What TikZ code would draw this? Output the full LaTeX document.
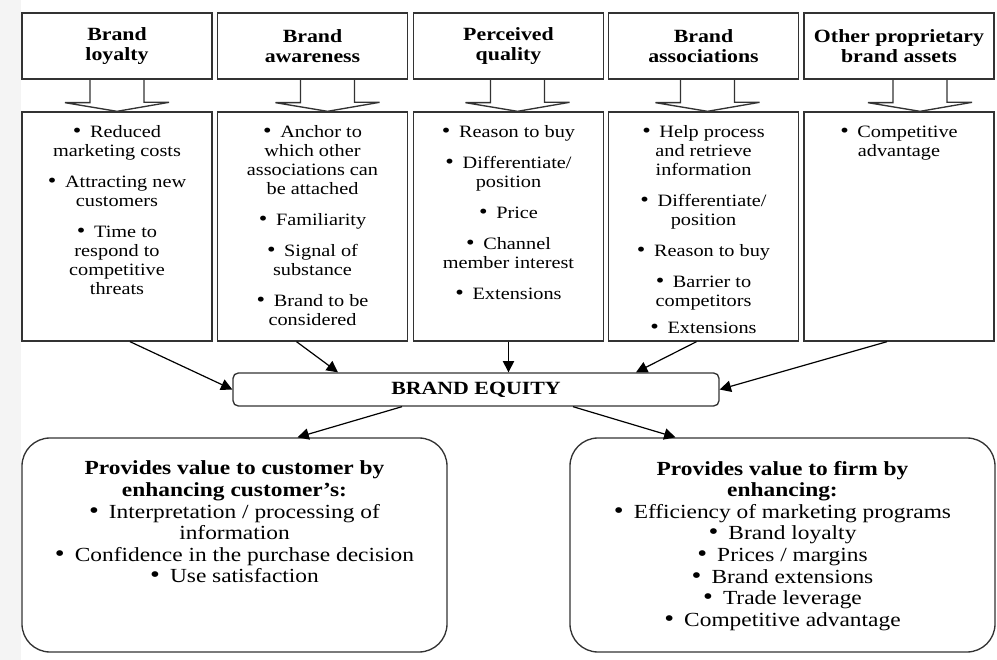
\documentclass[tikz,border=0pt]{standalone}
\usepackage{fontspec}
\setmainfont{Liberation Serif}[FakeStretch=1.17]
\usetikzlibrary{arrows.meta,positioning,calc}
\newcommand\bul{\scalebox{1.2}{\textbullet}\enspace}

\begin{document}
\begin{tikzpicture}[x=.75pt,y=-.75pt,>={Triangle[length=8.5pt,width=8.5pt]},
    headbox/.style={draw=black!80,line width=1pt,minimum width=142.5pt,minimum height=49.5pt,
        inner sep=0pt,align=center,font=\bfseries\fontsize{14}{15}\selectfont},
    listbox/.style={draw=black!80,line width=1pt,minimum width=142.5pt,minimum height=171.75pt},
    listtext/.style={inner sep=0pt,align=center,font=\fontsize{13}{14.25}\selectfont},
    valuebox/.style={draw=black!80,line width=1pt,rounded corners=21pt,
        minimum width=318.75pt,minimum height=160.5pt},
    valuetext/.style={inner sep=0pt,align=center,font=\fontsize{15}{16.2}\selectfont},
    fatarrow/.style={draw=black!80,line width=1pt,line join=miter},
    link/.style={->,line width=.9pt}]
\useasboundingbox (0,0) rectangle (997,660);
\fill[gray!9] (0,0) rectangle (21,660);

% the five assets
\node[headbox] (h1) at (117,46) {Brand\\loyalty};
\node[headbox] (h2) at (312.5,46) {Brand\\awareness};
\node[headbox] (h3) at (508.5,46) {Perceived\\quality};
\node[headbox] (h4) at (703.5,46) {Brand\\associations};
\node[headbox] (h5) at (899,46) {Other proprietary\\brand assets};

% what each one brings
\node[listbox] (l1) at (117,226.5) {};
\node[listbox] (l2) at (312.5,226.5) {};
\node[listbox] (l3) at (508.5,226.5) {};
\node[listbox] (l4) at (703.5,226.5) {};
\node[listbox] (l5) at (899,226.5) {};
\node[listtext,below=10.5pt of l1.north] (t1) {\bul Reduced\\marketing costs\\[9pt]
    \bul Attracting new\\customers\\[9pt]\bul Time to\\respond to\\competitive\\threats};
\node[listtext,below=10.5pt of l2.north] (t2) {\bul Anchor to\\which other\\associations can\\be attached\\[9pt]
    \bul Familiarity\\[9pt]\bul Signal of\\substance\\[9pt]\bul Brand to be\\considered};
\node[listtext,below=10.5pt of l3.north] (t3) {\bul Reason to buy\\[9pt]\bul Differentiate/\\position\\[9pt]
    \bul Price\\[9pt]\bul Channel\\member interest\\[9pt]\bul Extensions};
\node[listtext,below=10.5pt of l4.north] (t4) {\bul Help process\\and retrieve\\information\\[9pt]
    \bul Differentiate/\\position\\[9pt]\bul Reason to buy\\[9pt]\bul Barrier to\\competitors\\[6pt]
    \bul Extensions};
\node[listtext,below=10.5pt of l5.north] (t5) {\bul Competitive\\advantage};

\foreach \i/\dx in {1/0,2/15,3/9,4/4,5/21}
    \draw[fatarrow] ($(h\i.south)+(\dx-27,0)$) -- ++(0,23) -- ++(-25,0) -- ($(l\i.north)+(\dx,0)$)
        -- ++(52,-9) -- ++(-25,0) -- ($(h\i.south)+(\dx+27,0)$);

\node[draw=black!80,line width=1pt,rounded corners=4pt,minimum width=364.5pt,minimum height=24.75pt,
    font=\bfseries\fontsize{14}{16}\selectfont] (eq) at (476,389.5) {BRAND EQUITY};

\draw[link] ($(l1.south)+(13,0)$) -- (eq.west);
\draw[link] ($(l2.south)+(-16,0)$) -- ($(eq.north)+(-138,0)$);
\draw[link] (l3.south) -- (l3.south |- eq.north);
\draw[link] ($(l4.south)+(-7,0)$) -- ($(eq.north)+(160,0)$);
\draw[link] ($(l5.south)+(-12,0)$) -- (eq.east);

% value for customer and firm
\node[valuebox] (cust) at (234.5,545) {};
\node[valuebox] (firm) at (782.5,545) {};
\node[valuetext,below=17.5pt of cust.north] (ct) {\textbf{Provides value to customer by}\\
    \textbf{enhancing customer's:}\\\bul Interpretation / processing of\\information\\
    \bul Confidence in the purchase decision\\\bul Use satisfaction};
\node[valuetext,below=17.5pt of firm.north] (ft) {\textbf{Provides value to firm by}\\\textbf{enhancing:}\\
    \bul Efficiency of marketing programs\\\bul Brand loyalty\\\bul Prices / margins\\
    \bul Brand extensions\\\bul Trade leverage\\\bul Competitive advantage};

\draw[link] ($(eq.south)+(-74,0)$) -- ($(cust.north)+(63,0)$);
\draw[link] ($(eq.south)+(97,0)$) -- ($(firm.north)+(-107,0)$);
\end{tikzpicture}
\end{document}
